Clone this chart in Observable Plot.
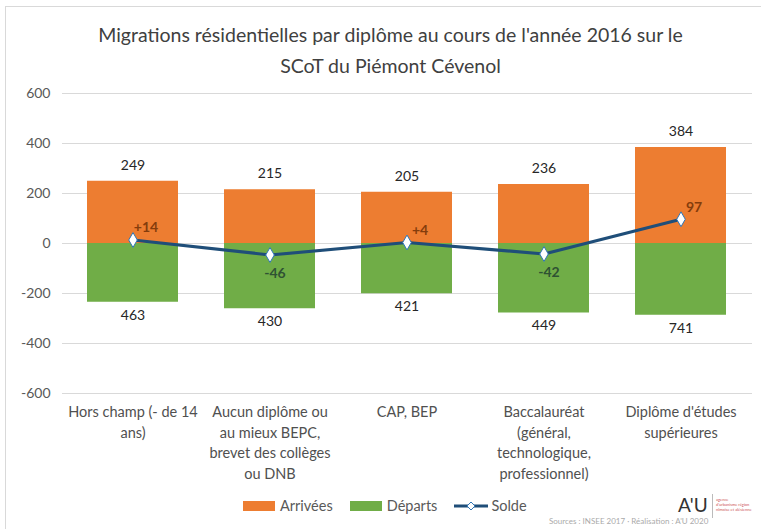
<!DOCTYPE html>
<html><head><meta charset="utf-8">
<script src="https://cdn.jsdelivr.net/npm/d3@7"></script>
<script src="https://cdn.jsdelivr.net/npm/@observablehq/plot@0.6"></script>
<style>
body{margin:0;background:#fff;font-family:Lato,"Open Sans",sans-serif;}
#wrap{position:relative;width:761px;height:529px;overflow:hidden;background:#fff;}
#frame{position:absolute;left:5px;top:6px;width:800px;height:600px;border:1px solid #d9d9d9;box-sizing:border-box;}
#title{position:absolute;left:0;top:19px;width:781px;text-align:center;font-size:19.5px;line-height:31px;color:#404040;}
#chart{position:absolute;left:0;top:0;}
#legend{position:absolute;top:497px;left:243px;font-size:14.5px;color:#595959;display:flex;align-items:center;}
.sw{display:inline-block;width:32px;height:10px;margin-right:5px;}
.it{display:flex;align-items:center;margin-right:17px;}
#logo{position:absolute;left:678px;top:493px;font-size:19px;color:#333;}
#logo2{position:absolute;left:712px;top:494px;width:1px;height:24px;background:#bbb;}
#logo3{position:absolute;left:716px;top:497px;font-size:4px;line-height:5px;color:#c55;}
#src{position:absolute;left:549px;top:516px;font-size:8px;color:#aaa;white-space:nowrap;}
</style></head>
<body><div id="wrap">
<div id="frame"></div>
<div id="chart"></div>
<div id="title">Migrations résidentielles par diplôme au cours de l'année 2016 sur le<br>SCoT du Piémont Cévenol</div>
<div id="legend">
 <div class="it"><span class="sw" style="background:#ED7D31"></span>Arrivées</div>
 <div class="it"><span class="sw" style="background:#70AD47"></span>Départs</div>
 <div class="it"><svg width="36" height="12" style="margin-right:1px"><line x1="0" y1="6" x2="34" y2="6" stroke="#1F4E79" stroke-width="3"/><path d="M17,2 L21,6 L17,10 L13,6 Z" fill="#fff" stroke="#2E75B6" stroke-width="1"/></svg>Solde</div>
</div>
<div id="logo">A'U</div><div id="logo2"></div><div id="logo3">agence<br>d'urbanisme région<br>nîmoise et alésienne</div>
<div id="src">Sources : INSEE 2017 · Réalisation : A'U 2020</div>
</div>
<script>
const categories = ["Hors champ","Aucun diplôme","CAP, BEP","Baccalauréat","Diplôme d'études supérieures"];
const categoryLabels = ["Hors champ (- de 14\nans)","Aucun diplôme ou\nau mieux BEPC,\nbrevet des collèges\nou DNB","CAP, BEP","Baccalauréat\n(général,\ntechnologique,\nprofessionnel)","Diplôme d'études\nsupérieures"];
const arrivees = [249, 215, 205, 236, 384];
const departs = [235, 261, 201, 278, 287];
const departsLabels = ["463", "430", "421", "449", "741"];
const solde = [14, -46, 4, -42, 97];
const soldeLabels = ["+14", "-46", "+4", "-42", "97"];
const yTicks = [-600, -400, -200, 0, 200, 400, 600];

const rows = categories.map((c, i) => ({
  cat: c, label: categoryLabels[i], arr: arrivees[i], dep: -departs[i],
  depLabel: departsLabels[i], solde: solde[i], soldeLabel: soldeLabels[i]
}));

const chart = Plot.plot({
  width: 761, height: 529,
  marginTop: 93, marginBottom: 136, marginLeft: 62, marginRight: 9,
  style: {fontFamily: "Lato, 'Open Sans', sans-serif", fontSize: "13px", color: "#595959", background: "transparent"},
  x: {domain: categories, paddingInner: 0.333, paddingOuter: 0.1667, axis: null},
  y: {domain: [-600, 600]},
  marks: [
    Plot.gridY(yTicks, {stroke: "#d9d9d9", strokeOpacity: 1, strokeWidth: 1}),
    Plot.axisY(yTicks, {tickSize: 0, tickPadding: 12, fontSize: 14, fill: "#595959", tickFormat: d => String(d)}),
    Plot.barY(rows, {x: "cat", y: "arr", fill: "#ED7D31"}),
    Plot.barY(rows, {x: "cat", y: "dep", fill: "#70AD47"}),
    Plot.text(rows, {x: "cat", y: "arr", text: d => String(d.arr), dy: -16, fontSize: 14, fill: "#262626"}),
    Plot.text(rows, {x: "cat", y: "dep", text: "depLabel", dy: 13, fontSize: 14, fill: "#262626"}),
    Plot.line(rows, {x: "cat", y: "solde", stroke: "#1F4E79", strokeWidth: 3.2}),
    Plot.dot(rows, {x: "cat", y: "solde", symbol: "diamond", r: 4.5, fill: "#fff", stroke: "#2E75B6", strokeWidth: 1}),
    Plot.text(rows.filter(d => d.solde >= 0), {x: "cat", y: "solde", text: "soldeLabel", dx: 13, dy: -12, fontSize: 14, fontWeight: "bold", fill: "#843C0C"}),
    Plot.text(rows.filter(d => d.solde < 0), {x: "cat", y: "solde", text: "soldeLabel", dx: 5, dy: 19, fontSize: 14, fontWeight: "bold", fill: "#2F5233"}),
    Plot.text(rows, {x: "cat", text: "label", frameAnchor: "bottom", lineAnchor: "top", dy: 9, lineHeight: 1.42, fontSize: 14.5, fill: "#505050"})
  ]
});
document.getElementById("chart").appendChild(chart);
</script>
</body></html>
